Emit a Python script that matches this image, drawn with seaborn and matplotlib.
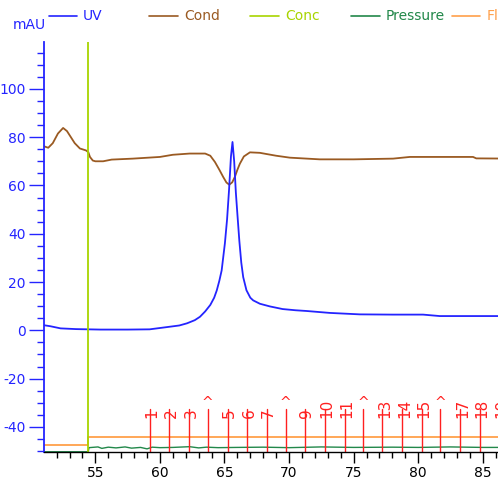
import numpy as np
import pandas as pd
import matplotlib
matplotlib.use("Agg")
import matplotlib.pyplot as plt
import seaborn as sns
from matplotlib.lines import Line2D
from matplotlib.ticker import MultipleLocator

# ---------------- data ----------------
uv_time = [51.02, 51.5, 52.3, 53.5, 55.4, 57.5, 59.2, 60.5, 61.5, 62.1, 62.7, 63.1,
           63.5, 63.9, 64.2, 64.4, 64.6, 64.78, 65.03, 65.2, 65.35, 65.5, 65.62,
           65.75, 65.88, 66.0, 66.15, 66.3, 66.45, 66.7, 67.0, 67.22, 67.74, 68.51,
           69.5, 70.5, 71.35, 73.16, 75.48, 78.0, 80.38, 81.67, 84.0, 87.5]
uv_mau = [2.1, 1.7, 0.8, 0.5, 0.3, 0.3, 0.4, 1.3, 2.0, 2.9, 4.2, 5.6,
          7.8, 10.5, 13.5, 16.5, 20.5, 24.8, 36.0, 46.0, 58.0, 72.0, 78.0,
          70.0, 57.0, 48.0, 37.0, 28.0, 22.0, 16.6, 13.5, 12.4, 11.0, 9.9,
          8.8, 8.3, 8.0, 7.2, 6.6, 6.5, 6.5, 5.9, 5.9, 5.9]

cond_time = [51.02, 51.35, 51.7, 52.1, 52.5, 52.8, 53.1, 53.4, 53.8, 54.27, 54.45,
             54.58, 54.8, 55.0, 55.6, 56.26, 57.9, 60.0, 61.0, 62.3, 63.5, 63.9,
             64.26, 64.6, 64.9, 65.15, 65.37, 65.6, 65.8, 66.0, 66.19, 66.5, 66.97,
             67.74, 68.26, 69.0, 70.06, 72.38, 75.0, 78.06, 79.35, 84.25, 84.5, 87.5]
cond_val = [76.2, 75.6, 77.5, 81.5, 83.8, 82.5, 80.0, 77.5, 75.3, 74.5, 73.8,
            71.8, 70.3, 70.0, 70.0, 70.7, 71.1, 71.8, 72.7, 73.2, 73.2, 72.3,
            69.7, 66.5, 63.5, 61.2, 60.3, 61.3, 63.5, 66.5, 69.0, 72.0, 73.7,
            73.5, 73.0, 72.3, 71.5, 70.8, 70.8, 71.1, 71.8, 71.8, 71.2, 71.1]

conc_step_time = 54.4

pressure_time = [51.02, 54.45, 54.5, 55.2, 55.5, 56.0, 56.6, 57.3, 57.8, 58.5, 59.0,
                 59.4, 60.0, 61.0, 62.3, 63.0, 63.6, 64.5, 66.0, 68.0, 70.0, 72.5,
                 75.0, 78.0, 80.0, 82.5, 85.0, 87.5]
pressure_val = [-50.3, -50.3, -48.6, -48.3, -48.9, -48.4, -48.7, -48.3, -48.8, -48.5, -49.1,
                -48.4, -48.6, -48.5, -48.2, -48.7, -48.4, -48.6, -48.5, -48.4, -48.6, -48.3,
                -48.5, -48.4, -48.5, -48.3, -48.5, -48.5]

flow_time = [51.02, 54.45, 54.45, 87.5]
flow_val = [-47.6, -47.6, -44.2, -44.2]

fraction_pos = [59.23, 60.72, 62.27, 63.69, 65.24, 66.76, 68.26, 69.73, 71.22, 72.80,
                74.32, 75.76, 77.23, 78.78, 80.30, 81.72, 83.27, 84.79, 86.30]
fraction_labels = ["1", "2", "3", "^", "5", "6", "7", "^", "9", "10",
                   "11", "^", "13", "14", "15", "^", "17", "18", "19"]

x_ticks = [55, 60, 65, 70, 75, 80, 85]
y_ticks = [-40, -20, 0, 20, 40, 60, 80, 100]

# ---------------- style ----------------
sns.set_style("white")
plt.rcParams["font.family"] = ["DejaVu Sans"]
plt.rcParams["axes.unicode_minus"] = False

C_UV = "#2424ff"
C_COND = "#9a5a22"
C_CONC = "#a8d400"
C_PRES = "#22884a"
C_FL = "#ffa04a"
C_FR = "#ff2020"

W, H = 498, 482
fig = plt.figure(figsize=(W / 100, H / 100), dpi=100)
ax = fig.add_axes([44 / W, 30 / H, 471 / W, 410 / H])

uv_df = pd.DataFrame({"t": uv_time, "v": uv_mau})
cond_df = pd.DataFrame({"t": cond_time, "v": cond_val})

sns.lineplot(data=cond_df, x="t", y="v", color=C_COND, lw=1.3, ax=ax,
             estimator=None, sort=False)
sns.lineplot(data=uv_df, x="t", y="v", color=C_UV, lw=1.3, ax=ax,
             estimator=None, sort=False)
sns.lineplot(x=pressure_time, y=pressure_val, color=C_PRES, lw=1.0, ax=ax,
             estimator=None, sort=False)
sns.lineplot(x=flow_time, y=flow_val, color=C_FL, lw=1.3, ax=ax,
             estimator=None, sort=False)
ax.axvline(conc_step_time, color=C_CONC, lw=1.3)

# fraction marks
for xp, lab in zip(fraction_pos, fraction_labels):
    ax.plot([xp, xp], [-50.4, -32.5], color=C_FR, lw=1.0)
    if lab == "^":
        ax.text(xp, -30.0, lab, color=C_FR, fontsize=10, ha="center", va="center")
    else:
        ax.text(xp + 0.15, -36.3, lab, color=C_FR, fontsize=11, rotation=90,
                ha="center", va="bottom")

ax.set_xlim(51.02, 87.5)
ax.set_ylim(-50.4, 119.4)
ax.set_xlabel("")
ax.set_ylabel("")

ax.set_xticks(x_ticks)
ax.set_xticklabels([str(v) for v in x_ticks])
ax.set_yticks(y_ticks)
ax.set_yticklabels([str(v) for v in y_ticks])
ax.xaxis.set_minor_locator(MultipleLocator(1))
ax.yaxis.set_minor_locator(MultipleLocator(5))

ax.tick_params(axis="x", which="major", length=8, width=1, colors="black",
               labelsize=10, pad=2, direction="out", bottom=True)
ax.tick_params(axis="x", which="minor", length=4, width=1, colors="black",
               direction="out", bottom=True)
ax.tick_params(axis="y", which="major", length=11, width=1, colors=C_UV,
               labelsize=10, pad=2, direction="out", left=True)
ax.tick_params(axis="y", which="minor", length=5, width=1, colors=C_UV,
               direction="out", left=True)

for s in ["top", "right"]:
    ax.spines[s].set_visible(False)
ax.spines["left"].set_color(C_UV)
ax.spines["left"].set_linewidth(1.3)
ax.spines["bottom"].set_color("black")
ax.spines["bottom"].set_linewidth(1.0)

# header legend
fig.text(13 / W, 1 - 25 / H, "mAU", color=C_UV, fontsize=10, ha="left", va="center")
legend_items = [("UV", C_UV, 49, 77, 83), ("Cond", C_COND, 149, 178, 184),
                ("Conc", C_CONC, 250, 279, 285), ("Pressure", C_PRES, 351, 380, 386),
                ("Fl", C_FL, 452, 480, 487)]
ly = 1 - 15.5 / H
for name, col, x0, x1, xt in legend_items:
    fig.add_artist(Line2D([x0 / W, x1 / W], [ly, ly], color=col, lw=1.2,
                          transform=fig.transFigure))
    fig.text(xt / W, ly, name, color=col, fontsize=10, ha="left", va="center")

fig.savefig("out.png", dpi=100)
